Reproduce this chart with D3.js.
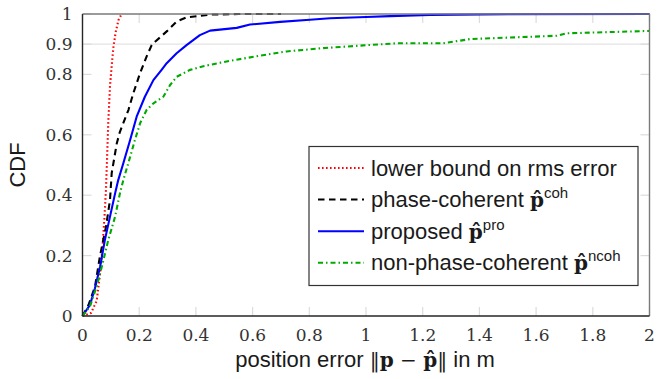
<!DOCTYPE html>
<html>
<head>
<meta charset="utf-8">
<script src="https://cdn.jsdelivr.net/npm/d3@7"></script>
<style>
  html, body { margin: 0; padding: 0; background: #fff; }
  svg { display: block; }
</style>
</head>
<body>
<svg id="chart" width="657" height="379"></svg>
<script>
// Empirical CDFs of the position error, as [error in m, CDF] pairs
const lowerBound = [[0,0],[0.03,0.01],[0.05,0.05],[0.062,0.14],[0.07,0.22],[0.077,0.32],[0.083,0.42],
  [0.087,0.53],[0.091,0.64],[0.097,0.76],[0.103,0.83],[0.109,0.89],[0.117,0.94],[0.127,0.98],[0.138,1.0]];
const phaseCoherent = [[0,0],[0.021,0.036],[0.044,0.097],[0.062,0.2],[0.083,0.296],[0.097,0.384],
  [0.103,0.473],[0.115,0.539],[0.121,0.572],[0.132,0.61],[0.162,0.682],[0.179,0.737],[0.203,0.804],
  [0.226,0.859],[0.244,0.897],[0.256,0.908],[0.3,0.945],[0.332,0.975],[0.368,0.989],[0.414,0.994],
  [0.45,0.998],[0.55,1.0],[0.7,1.0]];
const proposed = [[0,0],[0.026,0.036],[0.044,0.092],[0.062,0.163],[0.079,0.252],[0.097,0.329],
  [0.115,0.406],[0.126,0.45],[0.144,0.506],[0.168,0.583],[0.191,0.66],[0.22,0.726],[0.25,0.781],
  [0.279,0.815],[0.297,0.837],[0.332,0.87],[0.367,0.897],[0.414,0.93],[0.45,0.945],[0.544,0.954],
  [0.591,0.965],[0.697,0.974],[0.802,0.981],[0.873,0.986],[1.0,0.99],[1.085,0.993],[1.226,0.997],
  [1.5,0.999],[2.0,1.0]];
const nonPhaseCoherent = [[0,0],[0.026,0.031],[0.05,0.097],[0.068,0.163],[0.091,0.252],[0.115,0.329],
  [0.132,0.406],[0.144,0.45],[0.168,0.527],[0.185,0.583],[0.203,0.638],[0.226,0.682],[0.25,0.704],
  [0.285,0.726],[0.309,0.765],[0.332,0.792],[0.379,0.815],[0.426,0.827],[0.52,0.845],[0.614,0.86],
  [0.72,0.876],[0.849,0.887],[0.99,0.896],[1.108,0.903],[1.273,0.903],[1.367,0.917],[1.673,0.928],
  [1.708,0.936],[2.0,0.944]];

const xTicks = [0, 0.2, 0.4, 0.6, 0.8, 1, 1.2, 1.4, 1.6, 1.8, 2];
const yTicks = [0, 0.2, 0.4, 0.6, 0.8, 0.9, 1];
const gridY = [0.9];

const seriesNames = ["lower bound on rms error", "phase-coherent ", "proposed ", "non-phase-coherent "];
const seriesSup = [null, "coh", "pro", "ncoh"];

const series = [
  { data: lowerBound,       color: "#ff0000", dash: "1.6,2.4" },
  { data: phaseCoherent,    color: "#000000", dash: "6.5,4.5" },
  { data: proposed,         color: "#0000ff", dash: null },
  { data: nonPhaseCoherent, color: "#00aa00", dash: "5,3,1.5,3" }
];

const svg = d3.select("#chart");
const m = { left: 82.5, top: 14, right: 657 - 649.5, bottom: 379 - 316 };
const W = 657 - m.left - m.right, H = 379 - m.top - m.bottom;

const x = d3.scaleLinear().domain([0, 2]).range([0, W]);
const y = d3.scaleLinear().domain([0, 1]).range([H, 0]);

const g = svg.append("g").attr("transform", `translate(${m.left},${m.top})`);

const serif = "'DejaVu Serif', serif";
const sans = "'Liberation Sans', Arial, sans-serif";

// horizontal grid line
g.selectAll("line.grid").data(gridY).join("line")
  .attr("x1", 0).attr("x2", W)
  .attr("y1", d => y(d)).attr("y2", d => y(d))
  .attr("stroke", "#e3e3e3").attr("stroke-width", 1.2);

// inward tick marks on all four sides
const tl = 9;
const tickStyle = sel => sel.attr("stroke", "#dcdcdc").attr("stroke-width", 1.2);
g.selectAll("line.xb").data(xTicks).join("line")
  .attr("x1", d => x(d)).attr("x2", d => x(d)).attr("y1", H).attr("y2", H - tl).call(tickStyle);
g.selectAll("line.xt").data(xTicks).join("line")
  .attr("x1", d => x(d)).attr("x2", d => x(d)).attr("y1", 0).attr("y2", tl).call(tickStyle);
g.selectAll("line.yl").data(yTicks).join("line")
  .attr("y1", d => y(d)).attr("y2", d => y(d)).attr("x1", 0).attr("x2", tl).call(tickStyle);
g.selectAll("line.yr").data(yTicks).join("line")
  .attr("y1", d => y(d)).attr("y2", d => y(d)).attr("x1", W).attr("x2", W - tl).call(tickStyle);

// curves
svg.append("defs").append("clipPath").attr("id", "plotclip")
  .append("rect").attr("x", -2).attr("y", -2).attr("width", W + 4).attr("height", H + 4);
const line = d3.line().x(d => x(d[0])).y(d => y(d[1]));
const curves = g.append("g").attr("clip-path", "url(#plotclip)");
series.forEach(s => {
  curves.append("path").datum(s.data)
    .attr("d", line)
    .attr("fill", "none")
    .attr("stroke", s.color)
    .attr("stroke-width", 2.1)
    .attr("stroke-linejoin", "round")
    .attr("stroke-dasharray", s.dash);
});

// frame: dark left/bottom, grey top/right
g.append("line").attr("x1", 0).attr("x2", W).attr("y1", 0).attr("y2", 0).attr("stroke", "#7a7a7a").attr("stroke-width", 1.4);
g.append("line").attr("x1", W).attr("x2", W).attr("y1", 0).attr("y2", H).attr("stroke", "#7a7a7a").attr("stroke-width", 1.4);
g.append("line").attr("x1", 0).attr("x2", W).attr("y1", H).attr("y2", H).attr("stroke", "#262626").attr("stroke-width", 1.4);
g.append("line").attr("x1", 0).attr("x2", 0).attr("y1", 0).attr("y2", H).attr("stroke", "#262626").attr("stroke-width", 1.4);

// tick labels
const fmt = d => d3.format("~g")(d);
g.selectAll("text.xl").data(xTicks).join("text")
  .attr("x", d => x(d)).attr("y", H + 25)
  .attr("text-anchor", "middle")
  .attr("font-family", serif).attr("font-size", 17).attr("fill", "#333")
  .text(fmt);
g.selectAll("text.yl").data(yTicks).join("text")
  .attr("x", -10).attr("y", d => y(d) + 6)
  .attr("text-anchor", "end")
  .attr("font-family", serif).attr("font-size", 17).attr("fill", "#333")
  .text(fmt);

// axis titles
svg.append("text")
  .attr("transform", `translate(24.5,165) rotate(-90)`)
  .attr("text-anchor", "middle")
  .attr("font-family", sans).attr("font-size", 22).attr("fill", "#1a1a1a")
  .text("CDF");

const xt = svg.append("text")
  .attr("x", m.left + W / 2 - 1).attr("y", 367)
  .attr("text-anchor", "middle")
  .attr("font-family", sans).attr("font-size", 22).attr("fill", "#1a1a1a");
xt.append("tspan").text("position error ");
xt.append("tspan").attr("font-family", serif).attr("font-size", 20).text("\u2016");
xt.append("tspan").attr("font-family", serif).attr("font-weight", "bold").attr("font-size", 20).text("p");
xt.append("tspan").attr("font-family", serif).attr("font-size", 20).text(" \u2212 ");
xt.append("tspan").attr("font-family", serif).attr("font-weight", "bold").attr("font-size", 20).text("p\u0302");
xt.append("tspan").attr("font-family", serif).attr("font-size", 20).text("\u2016");
xt.append("tspan").text(" in m");

// legend
const lg = svg.append("g").attr("transform", "translate(309,146.5)");
lg.append("rect").attr("width", 329).attr("height", 139)
  .attr("fill", "#fff").attr("stroke", "#333").attr("stroke-width", 1.2);
const rowY = i => 21.5 + i * 31.6;
series.forEach((s, i) => {
  lg.append("line")
    .attr("x1", 9).attr("x2", 55).attr("y1", rowY(i)).attr("y2", rowY(i))
    .attr("stroke", s.color).attr("stroke-width", 2)
    .attr("stroke-dasharray", s.dash);
  const t = lg.append("text")
    .attr("x", 62).attr("y", rowY(i) + 7.5)
    .attr("font-family", sans).attr("font-size", 22).attr("fill", "#1a1a1a");
  t.append("tspan").text(seriesNames[i]);
  if (seriesSup[i]) {
    t.append("tspan").attr("font-family", serif).attr("font-weight", "bold").attr("font-size", 20).text("p\u0302");
    t.append("tspan").attr("font-size", 15).attr("dy", -9).text(seriesSup[i]);
  }
});
</script>
</body>
</html>
